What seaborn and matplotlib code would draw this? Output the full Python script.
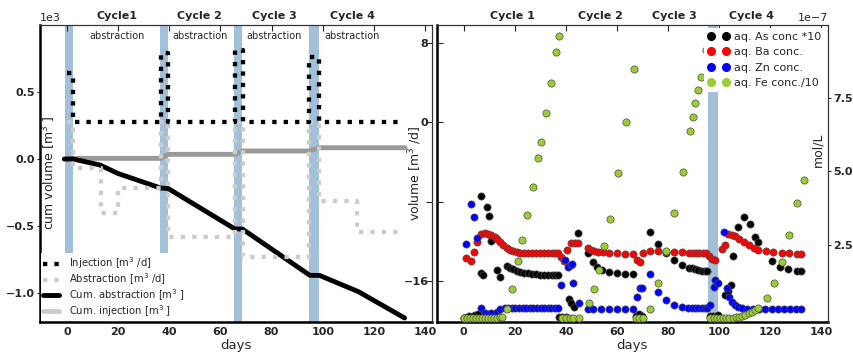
import matplotlib
matplotlib.use('Agg')
import matplotlib.pyplot as plt
from matplotlib.lines import Line2D
import pandas as pd
import seaborn as sns

sns.set_style('white')
plt.rcParams['font.family'] = ['DejaVu Sans']
plt.rcParams['mathtext.default'] = 'regular'

# Left panel: daily volumes (step levels, m3/d) and cumulative volumes (m3).
inj_days = [0, 2.5, 36.8, 39.5, 65.7, 69.0, 94.8, 98.7, 130.0]
inj_rate = [5.0, 0, 7.0, 0, 7.3, 0, 6.6, 0, 0]
abs_days = [0, 2.5, 13.5, 20.0, 36.8, 39.5, 65.7, 69.0, 94.8, 98.7, 113.6, 131.5]
abs_rate = [0, -4.6, -9.1, -6.6, 0, -11.6, 0, -13.6, 0, -7.9, -11.1, -11.1]
cum_abs_days = [-1, 2.5, 13, 20, 36.6, 39.6, 65.7, 68.6, 95, 98.7, 114, 132]
cum_abs = [0, 0, -45, -108, -216, -220, -522, -522, -868, -868, -990, -1186]
cum_inj_days = [0, 2.5, 36.8, 39.6, 65.7, 68.6, 94.8, 98.7, 132.2]
cum_inj = [0, 5, 5, 35, 35, 60, 60, 84, 84]

# injection periods (shaded)
band_start = [-0.8, 36.4, 65.4, 94.6]
band_end = [2.5, 39.6, 68.6, 98.7]
cycle_mid = [19.6, 52.0, 81.0, 111.5]
cycle_names_left = ['Cycle1', 'Cycle 2', 'Cycle 3', 'Cycle 4']
cycle_names_right = ['Cycle 1', 'Cycle 2', 'Cycle 3', 'Cycle 4']

# Right panel: aqueous concentrations (units of 1e-7 mol/L).
as_days = [0.2, 1.2, 2.3, 3.5, 4.6, 5.8, 6.8, 7.0, 7.7, 9.2, 10.0, 10.9, 12.9, 14.2, 16.8, 18.1,
           19.4, 20.9, 22.2, 23.6, 25.2, 26.7, 28.3, 29.8, 31.4, 33.0, 34.5, 35.8, 36.9, 37.4,
           38.7, 40.0, 41.3, 42.2, 43.2, 44.8, 48.7, 50.8, 52.3, 54.3, 56.9, 60.1, 63.1, 66.2,
           67.5, 68.8, 69.9, 72.9, 76.0, 79.2, 82.2, 85.5, 88.1, 89.4, 90.6, 91.9, 93.2, 94.5,
           95.4, 96.3, 97.5, 98.7, 99.7, 102.3, 103.5, 104.5, 105.5, 107.4, 109.7, 112.1, 114.0,
           115.3, 120.5, 123.8, 127.0, 130.3, 132.2]
as_vals = [0.02, 0.05, 0.08, 0.10, 0.12, 0.15, 1.54, 4.17, 1.48, 3.80, 3.50, 2.64, 1.65, 1.42,
           1.79, 1.73, 1.67, 1.62, 1.59, 1.56, 1.54, 1.52, 1.50, 1.49, 1.48, 1.48, 1.48, 1.48,
           1.48, 0.06, 0.06, 0.06, 0.65, 0.52, 0.40, 2.92, 2.22, 1.91, 1.76, 1.65, 1.59, 1.54,
           1.51, 1.50, 0.10, 0.15, 0.10, 2.95, 2.53, 2.22, 1.99, 1.82, 1.73, 1.70, 1.68, 1.66,
           1.63, 1.61, 1.60, 0.10, 0.10, 0.10, 0.12, 0.80, 0.95, 1.14, 2.13, 3.12, 3.46, 3.20,
           2.78, 2.61, 1.97, 1.76, 1.68, 1.63, 1.61]
ba_days = [0.8, 2.9, 3.9, 5.3, 7.0, 8.3, 9.6, 10.9, 12.2, 13.2, 14.3, 15.5, 16.8, 18.1, 19.4,
           20.9, 22.2, 23.6, 25.2, 26.7, 28.3, 29.8, 31.4, 33.0, 34.5, 35.8, 36.9, 38.2, 39.3,
           40.6, 42.0, 43.5, 44.8, 48.7, 50.0, 51.2, 52.6, 54.7, 56.9, 60.1, 63.1, 66.2, 67.9,
           69.2, 70.3, 73.1, 76.1, 79.2, 82.2, 85.5, 88.3, 89.6, 90.9, 92.2, 93.5, 94.8, 96.2,
           97.3, 98.4, 101.0, 102.3, 103.6, 104.9, 106.2, 107.9, 109.7, 111.8, 113.8, 115.3,
           118.3, 121.2, 124.4, 127.4, 130.3, 132.2]
ba_vals = [2.05, 1.97, 2.27, 2.61, 2.87, 2.90, 2.87, 2.84, 2.78, 2.69, 2.61, 2.50, 2.39, 2.33,
           2.28, 2.25, 2.24, 2.23, 2.23, 2.22, 2.22, 2.22, 2.22, 2.22, 2.22, 2.22, 2.22, 2.08,
           1.97, 2.33, 2.56, 2.58, 2.58, 2.39, 2.34, 2.30, 2.27, 2.25, 2.22, 2.22, 2.20, 2.20,
           1.99, 1.93, 2.22, 2.30, 2.30, 2.27, 2.25, 2.25, 2.24, 2.24, 2.24, 2.24, 2.24, 2.22,
           2.13, 2.02, 1.99, 2.36, 2.50, 2.86, 2.84, 2.79, 2.69, 2.61, 2.50, 2.39, 2.33, 2.30,
           2.27, 2.22, 2.22, 2.20, 2.20]
zn_days = [0.0, 0.9, 2.9, 3.9, 5.1, 1.5, 7.0, 8.3, 9.6, 10.9, 12.9, 14.2, 16.1, 17.5, 18.9,
           20.3, 21.7, 23.1, 24.5, 25.9, 27.3, 28.7, 30.1, 31.5, 32.9, 34.3, 35.7, 36.9, 38.2,
           39.6, 40.9, 42.0, 42.6, 43.0, 45.2, 48.7, 50.8, 53.6, 56.9, 60.1, 63.1, 66.2, 68.0,
           69.2, 70.0, 72.9, 76.0, 79.2, 82.2, 85.5, 88.0, 89.3, 90.6, 91.9, 93.2, 94.5, 95.4,
           96.5, 97.8, 98.4, 99.4, 101.9, 103.0, 103.8, 104.9, 106.2, 107.5, 108.8, 110.9,
           113.3, 115.7, 118.1, 120.5, 122.9, 125.3, 127.7, 130.1, 132.2]
zn_vals = [0.0, 2.53, 3.88, 3.46, 2.73, 0.03, 0.37, 0.20, 0.15, 0.18, 0.23, 0.31, 0.35, 0.35,
           0.35, 0.35, 0.35, 0.35, 0.35, 0.35, 0.35, 0.35, 0.35, 0.35, 0.35, 0.35, 0.35, 0.35,
           1.14, 1.99, 1.76, 1.82, 1.85, 1.20, 0.54, 0.31, 0.31, 0.31, 0.31, 0.31, 0.31, 0.31,
           0.74, 1.03, 1.05, 1.50, 0.91, 0.63, 0.46, 0.40, 0.36, 0.35, 0.35, 0.35, 0.35, 0.35,
           0.35, 0.46, 1.08, 1.31, 1.20, 2.95, 1.03, 0.74, 0.57, 0.46, 0.40, 0.35, 0.31, 0.31,
           0.31, 0.31, 0.31, 0.31, 0.31, 0.31, 0.31, 0.31]
fe_days = [0.0, 1.2, 2.4, 3.6, 4.8, 6.0, 7.2, 8.4, 9.6, 10.8, 12.0, 13.2, 14.4, 15.2, 17.0, 18.9,
           21.1, 23.0, 25.0, 27.0, 29.0, 30.1, 32.1, 34.2, 36.2, 37.3, 38.5, 40.0, 41.5, 43.0,
           45.2, 49.1, 51.0, 53.1, 54.9, 57.1, 60.3, 63.4, 66.7, 67.5, 68.8, 70.2, 73.0, 76.1,
           79.2, 82.4, 85.7, 88.7, 89.8, 90.7, 91.7, 92.8, 94.7, 95.9, 96.5, 97.8, 99.0, 100.3,
           101.5, 102.8, 104.0, 105.3, 106.5, 107.8, 109.0, 110.3, 111.5, 112.8, 114.0, 115.3,
           118.6, 121.4, 124.4, 127.3, 130.3, 133.0]
fe_vals = [0.0, 0.0, 0.0, 0.0, 0.0, 0.01, 0.01, 0.01, 0.02, 0.02, 0.03, 0.03, 0.04, 0.05, 0.31,
           1.00, 1.96, 2.67, 3.52, 4.46, 5.47, 5.99, 6.99, 8.02, 9.05, 9.59, 0.0, 0.0, 0.0, 0.0,
           0.0, 0.52, 1.00, 1.66, 2.47, 3.37, 4.94, 6.68, 8.50, 0.0, 0.0, 0.0, 0.31, 1.20, 2.31,
           3.60, 4.97, 6.39, 6.86, 7.32, 7.77, 8.22, 9.13, 9.59, 0.0, 0.0, 0.0, 0.0, 0.0, 0.01,
           0.02, 0.03, 0.04, 0.06, 0.08, 0.12, 0.17, 0.22, 0.29, 0.35, 0.68, 1.20, 1.92, 2.84,
           3.92, 4.70]
species = [('aq. As conc *10', as_days, as_vals, 'k'),
           ('aq. Ba conc.', ba_days, ba_vals, 'red'),
           ('aq. Zn conc.', zn_days, zn_vals, 'blue'),
           ('aq. Fe conc./10', fe_days, fe_vals, '#9acd32')]
right_band = (95.6, 99.5)
day_ticks = [0, 20, 40, 60, 80, 100, 120, 140]

fig = plt.figure(figsize=(8.54, 3.52), dpi=100)
ax1 = fig.add_axes([0.0468, 0.086, 0.4587, 0.843])
ax3 = fig.add_axes([0.5114, 0.086, 0.4582, 0.843])

# ---- left panel
for a, b in zip(band_start, band_end):
    ax1.axvspan(a, b, color='steelblue', alpha=0.5, lw=0, zorder=0)
sns.lineplot(x=cum_inj_days, y=cum_inj, ax=ax1, color='0.6', lw=3.5,
             estimator=None, sort=False)
sns.lineplot(x=cum_abs_days, y=cum_abs, ax=ax1, color='k', lw=3.5,
             estimator=None, sort=False)
ax1.set_xlim(-10.5, 142.6)
ax1.set_ylim(-1214, 1000)
ax1.set_yticks([-1000, -500, 0, 500])
ax1.ticklabel_format(axis='y', style='sci', scilimits=(0, 0))
ax1.yaxis.get_offset_text().set_fontsize(8)
ax1.set_xticks(day_ticks)
ax1.set_xlabel('days', fontsize=9.5, labelpad=1)
ax1.set_ylabel('cum volume [m$^3$ ]', fontsize=9)
ax1.yaxis.set_label_coords(0.046, 0.5)

ax1b = ax1.twinx()
sns.lineplot(x=abs_days, y=abs_rate, ax=ax1b, color='0.8', lw=3.1, ls=':',
             drawstyle='steps-post', estimator=None, sort=False)
sns.lineplot(x=inj_days, y=inj_rate, ax=ax1b, color='k', lw=3.1, ls=':',
             drawstyle='steps-post', estimator=None, sort=False)
ax1b.set_ylim(-20.1, 9.8)
ax1b.set_yticks([-16, -8, 0, 8])
ax1b.set_ylabel('')
ax1b.tick_params(axis='y', direction='in', length=4, labelright=False)

for x, name in zip(cycle_mid, cycle_names_left):
    ax1.text(x, 1.012, name, transform=ax1.get_xaxis_transform(), ha='center',
             va='bottom', fontsize=8, fontweight='bold')
    ax1.text(x, 0.963, 'abstraction', transform=ax1.get_xaxis_transform(),
             ha='center', va='center', fontsize=7)

handles = [Line2D([], [], color='k', ls=':', lw=3.1),
           Line2D([], [], color='0.8', ls=':', lw=3.1),
           Line2D([], [], color='k', lw=3.5),
           Line2D([], [], color='0.8', lw=3.5)]
labels = ['Injection [m$^3$ /d]', 'Abstraction [m$^3$ /d]',
          'Cum. abstraction [m$^3$ ]', 'Cum. injection [m$^3$ ]']
ax1b.legend(handles, labels, loc='lower left', fontsize=7.2, frameon=True,
            facecolor='white', edgecolor='none', framealpha=1, fancybox=False,
            borderaxespad=0.1, borderpad=0.2, labelspacing=0.02, handlelength=1.6,
            handletextpad=1.0)

# ---- right panel
ax3.axvspan(right_band[0], right_band[1], color='steelblue', alpha=0.5, lw=0, zorder=0)
ax3.set_xlim(-10.5, 142.6)
ax3.set_ylim(-20.1, 9.8)
ax3.set_yticks([-16, -8, 0, 8])
ax3.set_yticklabels(['\u221216', '', '0', '8'])
ax3.set_xticks(day_ticks)
ax3.set_xlabel('days', fontsize=9.5, labelpad=1)
ax3.set_ylabel('volume [m$^3$ /d]', fontsize=9)
ax3.yaxis.set_label_coords(-0.033, 0.5)

ax3b = ax3.twinx()
proxies = []
for name, d, v, c in species:
    df = pd.DataFrame({'day': d, 'conc': [val * 1e-7 for val in v]})
    sns.scatterplot(data=df, x='day', y='conc', ax=ax3b, color=c, s=27,
                    edgecolor='0.3', linewidth=0.5, zorder=3)
    proxies.append(Line2D([], [], marker='o', ls='none', color=c, markersize=5.5))
ax3b.set_ylim(-0.11e-7, 9.98e-7)
ax3b.set_yticks([2.5e-7, 5e-7, 7.5e-7])
ax3b.set_xlabel('')
ax3b.set_ylabel('mol/L', fontsize=9)
ax3b.yaxis.set_label_coords(0.958, 0.58)
ax3b.yaxis.get_offset_text().set_fontsize(8)
ax3b.tick_params(axis='y', direction='out', length=2.5, pad=1, labelsize=8)
ax3b.legend(proxies, [s[0] for s in species], loc='upper right', numpoints=2,
            fontsize=8, frameon=True, facecolor='white', edgecolor='none',
            framealpha=1, fancybox=False, borderaxespad=0.3, borderpad=0.3,
            labelspacing=0.5, handlelength=2.0, handletextpad=0.4)

for x, name in zip([19.3, 53.5, 82.5, 112.6], cycle_names_right):
    ax3.text(x, 1.012, name, transform=ax3.get_xaxis_transform(), ha='center',
             va='bottom', fontsize=8, fontweight='bold')

# ---- ticks and spines
for ax in (ax1, ax3):
    ax.tick_params(axis='x', direction='in', top=True, length=4, pad=4, labelsize=8)
ax1.tick_params(axis='y', direction='out', length=2.5, pad=1, labelsize=8)
ax3.tick_params(axis='y', direction='in', length=4, pad=6, labelsize=8)

for ax in (ax1, ax1b, ax3, ax3b):
    for side in ['top', 'right']:
        ax.spines[side].set_linewidth(0.8)
        ax.spines[side].set_color('0.2')
    for side in ['left', 'bottom']:
        ax.spines[side].set_linewidth(1.8)
        ax.spines[side].set_color('k')
for ax in (ax1b, ax3b):
    ax.spines['left'].set_visible(False)
    ax.spines['bottom'].set_visible(False)

for ax in (ax1, ax3, ax3b):
    plt.setp(ax.get_xticklabels() + ax.get_yticklabels(), fontweight='bold')

fig.savefig('out.png', dpi=100)
